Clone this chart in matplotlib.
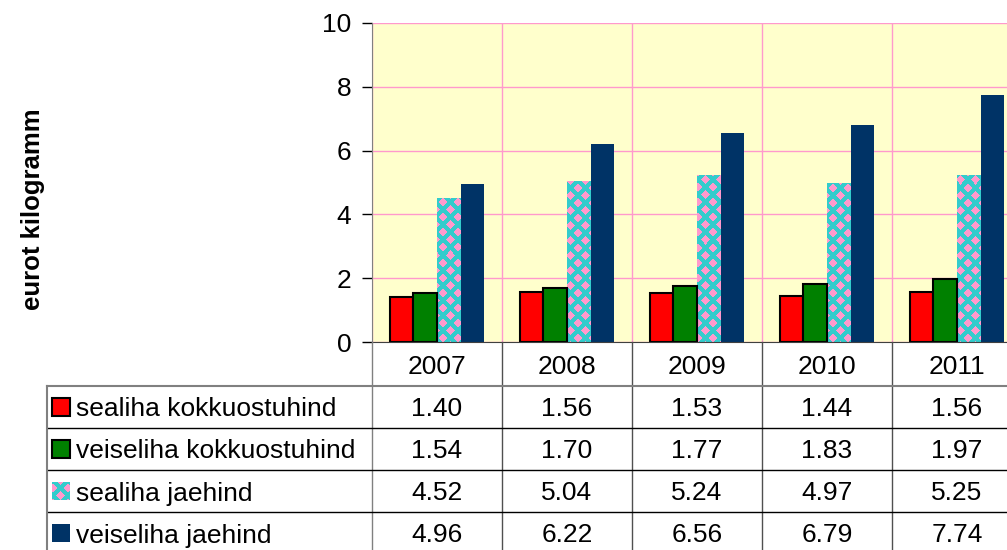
import numpy as np
import matplotlib.pyplot as plt
from matplotlib.lines import Line2D
from matplotlib.patches import Rectangle
from matplotlib import transforms

plt.rcParams['font.family'] = ['Liberation Sans', 'DejaVu Sans']

# andmed
years = ['2007', '2008', '2009', '2010', '2011']
sealiha_kokku = [1.40, 1.56, 1.53, 1.44, 1.56]
veiseliha_kokku = [1.54, 1.70, 1.77, 1.83, 1.97]
sealiha_jae = [4.52, 5.04, 5.24, 4.97, 5.25]
veiseliha_jae = [4.96, 6.22, 6.56, 6.79, 7.74]
series_names = ['sealiha kokkuostuhind', 'veiseliha kokkuostuhind',
                'sealiha jaehind', 'veiseliha jaehind']
series = [sealiha_kokku, veiseliha_kokku, sealiha_jae, veiseliha_jae]

RED, GREEN, NAVY = '#FF0000', '#008000', '#003366'
CYAN, PINK, BG = '#33CCCC', '#FF99CC', '#FFFFCC'

W, H = 1007, 550
FS = 19


def fx(x):
    return x / W


def fy(y):
    return 1 - y / H


def checker(w, h, x0, y0, period=15, r=4.5):
    """roosad rombid türkiissinisel taustal, pikslites"""
    xs = (np.arange(w) + x0) % period
    ys = (np.arange(h) + y0) % period
    u, v = np.meshgrid(xs, ys)
    d1 = np.minimum(u, period - u) + np.minimum(v, period - v)
    d2 = np.abs(u - period / 2) + np.abs(v - period / 2)
    mask = np.minimum(d1, d2) < r
    img = np.zeros((h, w, 3))
    img[:] = np.array([0x33, 0xCC, 0xCC]) / 255
    img[mask] = np.array([0xFF, 0x99, 0xCC]) / 255
    return img


fig = plt.figure(figsize=(W / 100, H / 100), dpi=100)
left, right, top, bottom = 372, 1022, 23, 342
ax = fig.add_axes([fx(left), fy(bottom), (right - left) / W, (bottom - top) / H])
ax.set_facecolor(BG)

x = np.arange(len(years))
bw = 1 / 5.5
off = (np.arange(4) - 1.5) * bw

ax.bar(x + off[0], sealiha_kokku, bw, color=RED, edgecolor='black', linewidth=1.5, zorder=2)
ax.bar(x + off[1], veiseliha_kokku, bw, color=GREEN, edgecolor='black', linewidth=1.5, zorder=2)
pat_bars = ax.bar(x + off[2], sealiha_jae, bw, color='none', linewidth=0, zorder=2)
ax.bar(x + off[3], veiseliha_jae, bw, color=NAVY, linewidth=0, zorder=2)

pattern = checker(right - left, bottom - top, left, top)
for b in pat_bars:
    im = ax.imshow(pattern, extent=(-0.5, 4.5, 0, 10), origin='upper',
                   interpolation='nearest', aspect='auto', zorder=1.8)
    im.set_clip_path(b)

ax.set_xlim(-0.5, 4.5)
ax.set_ylim(0, 10)
ax.set_yticks(np.arange(0, 11, 2))
ax.set_xticks([])
ax.set_xticks(np.arange(-0.5, 5, 1), minor=True)
ax.set_axisbelow(True)
ax.yaxis.grid(True, color=PINK, linewidth=1)
ax.xaxis.grid(True, which='minor', color=PINK, linewidth=1)
ax.tick_params(axis='x', which='both', length=0)
ax.tick_params(axis='y', length=7, width=1, pad=8, labelsize=FS)
for s in ['top', 'right']:
    ax.spines[s].set_visible(False)
ax.spines['left'].set_color('#808080')
ax.spines['bottom'].set_color('#404040')

fig.text(fx(33), fy(209), 'eurot kilogramm', rotation=90, fontweight='bold',
         fontsize=18.5, ha='center', va='center')

# andmetabel
blend = transforms.blended_transform_factory(ax.transData, fig.transFigure)
for xb in np.arange(-0.5, 5, 1):
    fig.add_artist(Line2D([xb, xb], [fy(342), fy(560)], transform=blend,
                          color='#505050' if xb > -0.5 else '#808080', linewidth=1))
fig.add_artist(Line2D([fx(47), 1], [fy(386), fy(386)], transform=fig.transFigure,
                      color='#808080', linewidth=1.5))
for yl in [428, 470, 512]:
    fig.add_artist(Line2D([fx(47), 1], [fy(yl), fy(yl)], transform=fig.transFigure,
                          color='black', linewidth=1))
fig.add_artist(Line2D([fx(47), fx(47)], [fy(386), fy(560)], transform=fig.transFigure,
                      color='#808080', linewidth=1.5))

for i, yr in enumerate(years):
    fig.text(i, fy(364), yr, transform=blend, ha='center', va='center_baseline', fontsize=FS)

row_y = [407, 449, 491, 533]
key_colors = [RED, GREEN, None, NAVY]
for j, (name, vals) in enumerate(zip(series_names, series)):
    yc = row_y[j]
    if j == 2:
        img = checker(18, 18, 52, yc - 9)
        fig.figimage(img, xo=52, yo=H - (yc + 9), zorder=3)
    else:
        fig.add_artist(Rectangle((fx(52), fy(yc + 9)), 18 / W, 18 / H,
                                 transform=fig.transFigure, facecolor=key_colors[j],
                                 edgecolor='black' if j < 2 else 'none', linewidth=1.5))
    fig.text(fx(76), fy(yc), name, ha='left', va='center_baseline', fontsize=FS)
    for i, v in enumerate(vals):
        fig.text(i, fy(yc), f'{v:.2f}', transform=blend, ha='center',
                 va='center_baseline', fontsize=FS)

fig.savefig('out.png', dpi=100)
